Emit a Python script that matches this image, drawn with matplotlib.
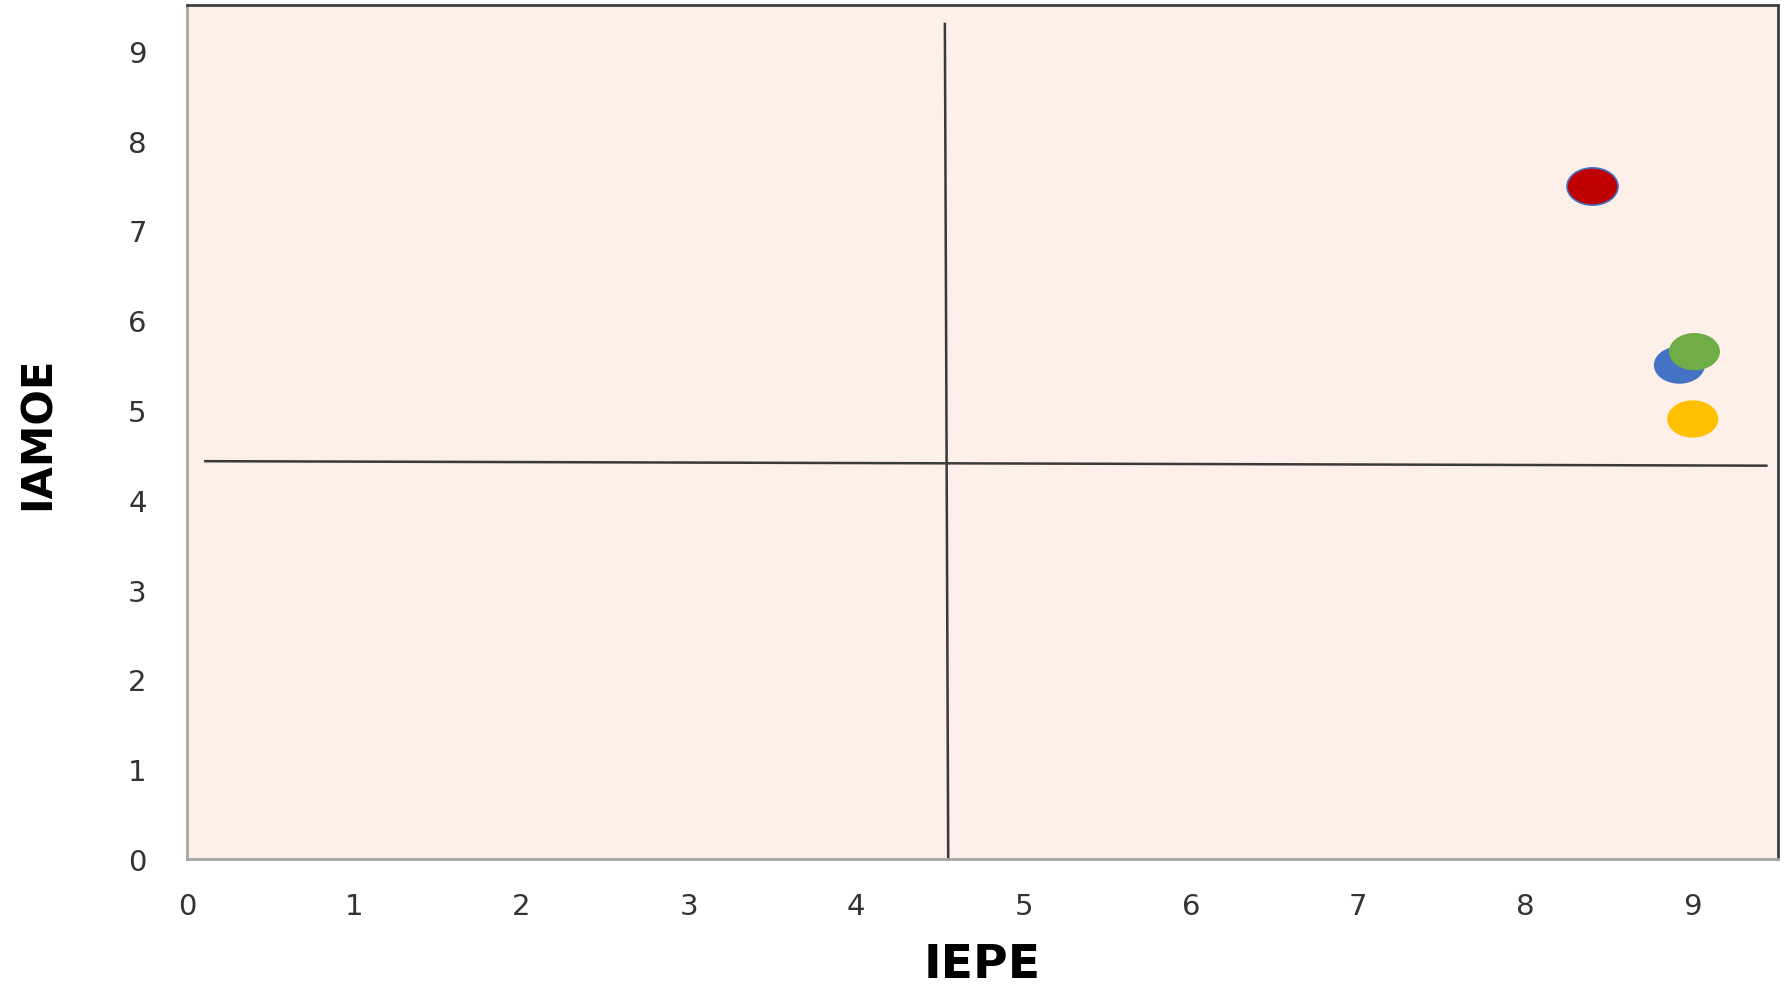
import matplotlib
matplotlib.use("Agg")
import matplotlib.pyplot as plt
from matplotlib.path import Path
from matplotlib.transforms import Affine2D

# Pontos (IEPE, IAMOE)
iepe = [8.40, 8.92, 9.01, 9.00]
iamoe = [7.50, 5.50, 5.65, 4.90]
cores = ["#C00000", "#4472C4", "#70AD47", "#FFC000"]
bordas = ["#4472C4", "none", "none", "none"]

# Linhas de referência (quadrantes)
corte_x = [4.53, 4.55]
corte_x_y = [9.30, 0.0]
corte_y_x = [0.11, 9.44]
corte_y = [4.43, 4.38]

ticks = list(range(10))

fig = plt.figure(figsize=(17.89, 9.87), dpi=100)
ax = fig.add_axes([0.1045, 0.1287, 0.8894, 0.8652])
ax.set_facecolor("#FCF0E8")

# marcador em forma de elipse
elipse = Path.unit_circle().transformed(Affine2D().scale(1.0, 0.73))

ax.plot(corte_x, corte_x_y, color="#3A3A3A", lw=1.8, zorder=2)
ax.plot(corte_y_x, corte_y, color="#3A3A3A", lw=1.8, zorder=2)

for x, y, c, b in zip(iepe, iamoe, cores, bordas):
    ax.scatter(x, y, s=1350, marker=elipse, color=c, edgecolors=b,
               linewidths=1.2, zorder=3)

ax.set_xlim(0, 9.51)
ax.set_ylim(0, 9.51)
ax.set_xticks(ticks)
ax.set_yticks(ticks)
ax.tick_params(axis="both", length=0, labelsize=21, labelcolor="#333333")
ax.tick_params(axis="x", pad=24)
ax.tick_params(axis="y", pad=29)

for s in ["left", "bottom"]:
    ax.spines[s].set_color("#A6A6A6")
    ax.spines[s].set_linewidth(2)
for s in ["top", "right"]:
    ax.spines[s].set_color("#404040")
    ax.spines[s].set_linewidth(2)

ax.set_xlabel("IEPE", fontsize=34, fontweight="bold", va="center")
ax.set_ylabel("IAMOE", fontsize=30, fontweight="bold", va="center")
ax.xaxis.set_label_coords(0.5, -0.124)
ax.yaxis.set_label_coords(-0.094, 0.5)

plt.savefig("out.png", dpi=100)
